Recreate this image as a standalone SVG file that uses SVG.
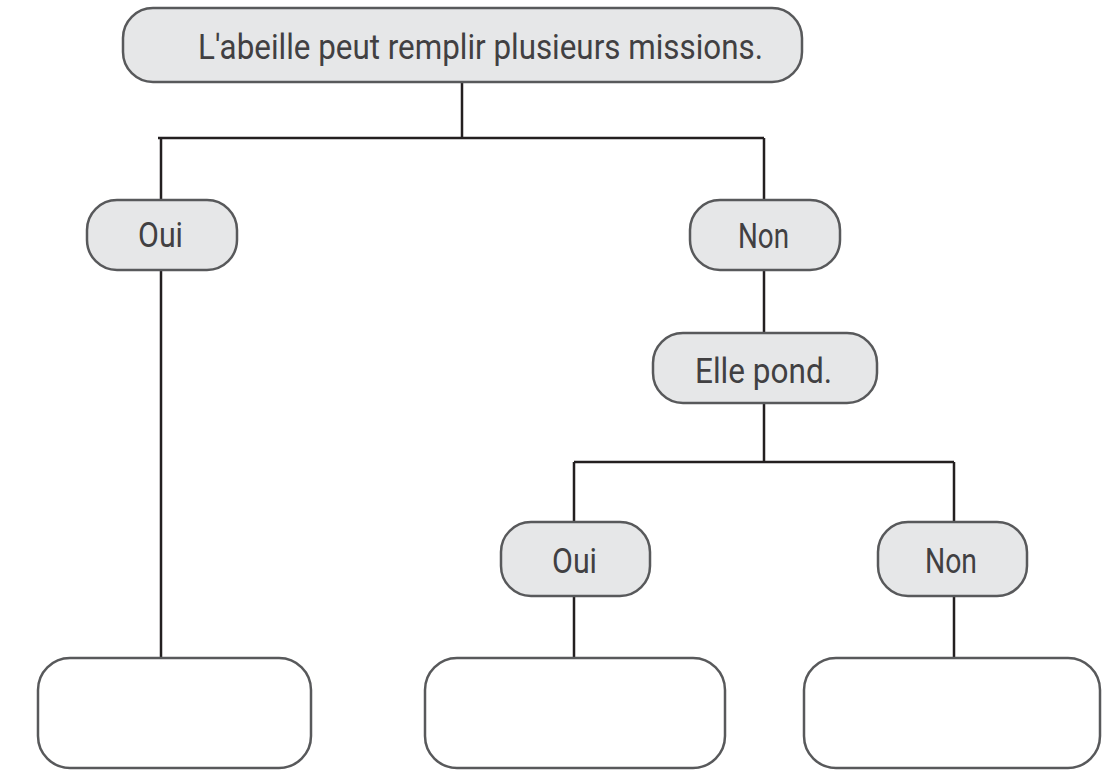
<svg xmlns="http://www.w3.org/2000/svg" width="1102" height="771" viewBox="0 0 1102 771">
<style>
.box{fill:#e6e7e8;stroke:#58595b;stroke-width:2.5}
.empty{fill:#ffffff;stroke:#58595b;stroke-width:2.5}
.lbl{font-family:Roboto,"Noto Sans",sans-serif;font-size:35px;fill:#414042}
.conn{fill:none;stroke:#231f20;stroke-width:2.5}
</style>
<rect width="1102" height="771" fill="#ffffff"/>
<g id="connectors">
<path class="conn" d="M462 82V138M158 138H764M161 138V200M764 138V200"/>
<path class="conn" d="M161 270V658"/>
<path class="conn" d="M764 270V333"/>
<path class="conn" d="M764 403V462M574 462H954M574 462V522M954 462V522"/>
<path class="conn" d="M574 596V658M954 596V658"/>
</g>
<g id="root">
<rect class="box" x="123" y="8" width="679" height="74" rx="30"/>
<text class="lbl" x="198" y="59" textLength="565" lengthAdjust="spacingAndGlyphs">L'abeille peut remplir plusieurs missions.</text>
</g>
<g id="oui1">
<rect class="box" x="87" y="200" width="150" height="70" rx="30"/>
<text class="lbl" x="138" y="247" textLength="45" lengthAdjust="spacingAndGlyphs">Oui</text>
</g>
<g id="non1">
<rect class="box" x="690" y="200" width="150" height="70" rx="30"/>
<text class="lbl" x="738" y="248" textLength="51" lengthAdjust="spacingAndGlyphs">Non</text>
</g>
<g id="pond">
<rect class="box" x="653" y="333" width="224" height="70" rx="30"/>
<text class="lbl" x="695" y="383" textLength="137" lengthAdjust="spacingAndGlyphs">Elle pond.</text>
</g>
<g id="oui2">
<rect class="box" x="501" y="522" width="149" height="74" rx="30"/>
<text class="lbl" x="552" y="573" textLength="45" lengthAdjust="spacingAndGlyphs">Oui</text>
</g>
<g id="non2">
<rect class="box" x="878" y="522" width="149" height="74" rx="30"/>
<text class="lbl" x="925" y="573" textLength="52" lengthAdjust="spacingAndGlyphs">Non</text>
</g>
<g id="answer1">
<rect class="empty" x="38" y="658" width="273" height="110" rx="32"/>
</g>
<g id="answer2">
<rect class="empty" x="425" y="658" width="300" height="110" rx="32"/>
</g>
<g id="answer3">
<rect class="empty" x="804" y="658" width="296" height="110" rx="32"/>
</g>
</svg>
